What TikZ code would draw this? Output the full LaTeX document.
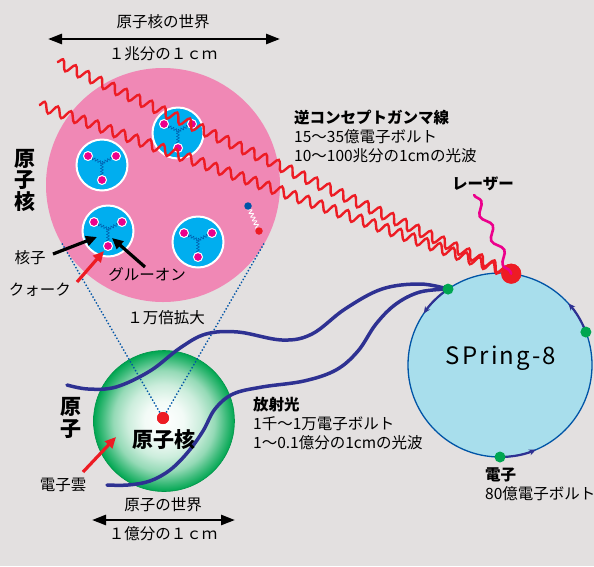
\documentclass[tikz,border=0pt]{standalone}
\usepackage{fontspec}
\setmainfont{Noto Sans CJK JP}
\usetikzlibrary{arrows.meta,decorations.pathmorphing}

\definecolor{bggray}{RGB}{227,224,224}
\definecolor{nucpink}{RGB}{240,136,181}
\definecolor{nucblue}{RGB}{0,174,239}
\definecolor{quarkmag}{RGB}{236,0,140}
\definecolor{gred}{RGB}{237,28,36}
\definecolor{ringblue}{RGB}{168,222,236}
\definecolor{linkblue}{RGB}{0,84,166}
\definecolor{beamblue}{RGB}{46,49,146}
\definecolor{egreen}{RGB}{0,166,81}

% electron cloud: white core, green rim
\pgfdeclareradialshading{atomcloud}{\pgfpoint{0bp}{0bp}}{color(0bp)=(white); color(7bp)=(white!95!egreen); color(13bp)=(egreen!20); color(18bp)=(egreen!42); color(22bp)=(egreen!76); color(25bp)=(egreen); color(50bp)=(egreen)}

\begin{document}
\begin{tikzpicture}[x=1pt, y=-1pt, >={Triangle[length=11pt,width=10pt]},
	txt/.style={font=\fontsize{15.5}{19}\selectfont, inner sep=0},
	bold/.style={font=\fontsize{15.5}{19}\selectfont\bfseries, inner sep=0},
	big/.style={font=\fontsize{21}{21.5}\selectfont\bfseries, inner sep=0, align=center},
	nucleon/.style={circle, fill=nucblue, draw=white, line width=2pt, minimum size=51pt, inner sep=0},
	quark/.style={circle, fill=quarkmag, draw=white, line width=1pt, minimum size=9pt, inner sep=0},
	gluon/.style={linkblue, line width=.5pt, decorate, decoration={snake, amplitude=1.4pt, segment length=3pt}},
	dot/.style={circle, minimum size=#1, inner sep=0},
	gamma/.style={gred, line width=2.4pt, decorate, decoration={snake, amplitude=5pt, segment length=14pt}},
	laser/.style={quarkmag, line width=2.6pt, line cap=round, decorate, decoration={snake, amplitude=4pt, segment length=27pt}},
	beam/.style={beamblue, line width=3.5pt, line cap=round},
	orbit/.style={beamblue, line width=2.2pt, -{Stealth[length=7pt,width=6pt]}},
	pointer/.style={line width=3.2pt, ->},
	span/.style={line width=2.6pt, {Triangle[length=14pt,width=10pt]}-{Triangle[length=14pt,width=10pt]}},
	cone/.style={linkblue, line width=1.4pt, dotted},
]
	\useasboundingbox (0,0) rectangle (594,566);
	\fill[bggray] (0,0) rectangle (594,566);

	% the nucleus, 10^4 times magnified
	\node[circle, fill=nucpink, minimum size=234pt, inner sep=0] (nucleus) at (163,185) {};
	\foreach \x/\y/\n in {178/133/a, 102/165/b, 108/231/c, 198/242/d}{
		\begin{scope}[shift={(\x,\y)}]
			\node[nucleon] (n\n) at (0,0) {};
			\coordinate (j\n) at (0,-2);
			\foreach \qx/\qy [count=\k] in {-14/-9, 14/-9, 0/15}{
				\draw[gluon] (j\n) -- (\qx,\qy);
				\node[quark] (q\n\k) at (\qx,\qy) {};
			}
		\end{scope}
	}
	% electron-positron pair
	\path
		(248,206) coordinate (eminusPos)
		(259,231) coordinate (eplusPos);
	\draw[white, line width=.8pt, decorate, decoration={snake, amplitude=2pt, segment length=4pt}] (eminusPos) -- (eplusPos);
	\node[dot=7.5pt, fill=linkblue] (eminus) at (eminusPos) {};
	\node[dot=7.5pt, fill=gred] (eplus) at (eplusPos) {};

	% the atom
	\node[circle, shade, shading=atomcloud, draw=egreen!90!black, line width=.6pt, minimum size=141pt, inner sep=0] (atom) at (164,421) {};
	\path
		(62,243.5) coordinate (coneL)
		(264,243.5) coordinate (coneR);
	\node[dot=12pt, fill=gred] (core) at (163,418) {};
	\draw[cone] (coneL) -- (core.center);
	\draw[cone] (coneR) -- (core.center);
	\node[dot=12pt, fill=gred] at (core) {};

	% SPring-8 storage ring
	\node[circle, fill=ringblue, draw=linkblue, line width=1.3pt, minimum size=184pt, inner sep=0] (ring) at (500,365) {};
	\node[font=\fontsize{24}{28}\selectfont\addfontfeatures{LetterSpace=9}] (ringName) at (501,358) {SPring-8};
	\draw[orbit] (ring.center) ++(90:92) arc[start angle=90, end angle=67, radius=92];
	\draw[orbit] (ring.center) ++(339:92) arc[start angle=339, end angle=318, radius=92];
	\draw[orbit] (ring.center) ++(235.6:92) arc[start angle=235.6, end angle=214, radius=92];

	% synchrotron light out of the bending point
	\path (ring.center) ++(235.6:92) coordinate (bendA);
	\draw[beam] plot[smooth, tension=.6] coordinates {(bendA) (420,284) (382,289) (345,309) (312,334) (282,340) (238,332) (206,334) (180,348) (150,371) (116,387) (88,389) (67,385)};
	\draw[beam] plot[smooth, tension=.6] coordinates {(bendA) (420,292) (396,304) (376,324) (358,351) (336,370) (304,381) (262,387) (233,394) (215,409) (203,431) (188,452) (170,470) (150,481) (128,485) (107,485)};
	\path
		(ring.center) ++(235.6:92) node[dot=11pt, fill=egreen] (eA) {}
		(ring.center) ++(339:92) node[dot=11pt, fill=egreen] (eB) {}
		(ring.center) ++(90:92) node[dot=11pt, fill=egreen] (eC) {}
		(ring.center) ++(277:92) node[dot=20pt, fill=gred] (hit) {};

	% inverse Compton gamma rays and the laser
	\path
		(57,62) coordinate (gammaA)
		(39,105) coordinate (gammaB)
		(474,195) coordinate (laserSrc);
	\draw[gamma] (gammaA) -- (hit.center);
	\draw[gamma] (gammaB) -- (hit.center);
	\node[dot=20pt, fill=gred] at (hit) {};
	\draw[laser] (laserSrc) -- (hit.center);

	% scale bars
	\path
		(48,39) coordinate (nucBarL) (280,39) coordinate (nucBarR)
		(92,520) coordinate (atomBarL) (235,520) coordinate (atomBarR);
	\draw[span] (nucBarL) -- (nucBarR);
	\draw[span] (atomBarL) -- (atomBarR);
	\node[txt] (nucWorld) at (163,22) {原子核の世界};
	\node[txt] (nucScale) at (163,54) {１兆分の１ｃｍ};
	\node[txt] (atomWorld) at (163,505) {原子の世界};
	\node[txt] (atomScale) at (163,534) {１億分の１ｃｍ};

	% labels
	\node[big] (nucTitle) at (25,180) {原\\子\\核};
	\node[big] (atomTitle) at (71,418) {原\\子};
	\node[big] (coreName) at (164,440) {原子核};
	\node[txt] (kakushi) at (30,258) {核子};
	\node[txt] (quarkName) at (40,290) {クォーク};
	\node[txt] (gluonName) at (147,275) {グルーオン};
	\node[txt] (zoomName) at (166,318) {１万倍拡大};
	\node[txt] (cloudName) at (63,485) {電子雲};
	\node[bold] (laserName) at (483,184) {レーザー};

	\path
		(53,254) coordinate (kTail) (97,237) coordinate (kTip)
		(145,267) coordinate (gTail) (112,238) coordinate (gTip)
		(77,282) coordinate (qTail) (104,251) coordinate (qTip)
		(83,472) coordinate (cTail) (116,437) coordinate (cTip);
	\draw[pointer] (kTail) -- (kTip);
	\draw[pointer] (gTail) -- (gTip);
	\draw[pointer, gred] (qTail) -- (qTip);
	\draw[pointer, gred] (cTail) -- (cTip);

	\node[bold, anchor=west] (gammaTitle) at (294,118) {逆コンセプトガンマ線};
	\node[txt, anchor=west] (gammaEnergy) at (294,137) {15～35億電子ボルト};
	\node[txt, anchor=west] (gammaWave) at (294,156) {10～100兆分の1cmの光波};

	\node[bold, anchor=west] (lightTitle) at (253,405) {放射光};
	\node[txt, anchor=west] (lightEnergy) at (253,424) {1千～1万電子ボルト};
	\node[txt, anchor=west] (lightWave) at (253,443) {1～0.1億分の1cmの光波};

	\node[bold, anchor=west] (elecTitle) at (485,475) {電子};
	\node[txt, anchor=west] (elecEnergy) at (485,494) {80億電子ボルト};
\end{tikzpicture}
\end{document}
